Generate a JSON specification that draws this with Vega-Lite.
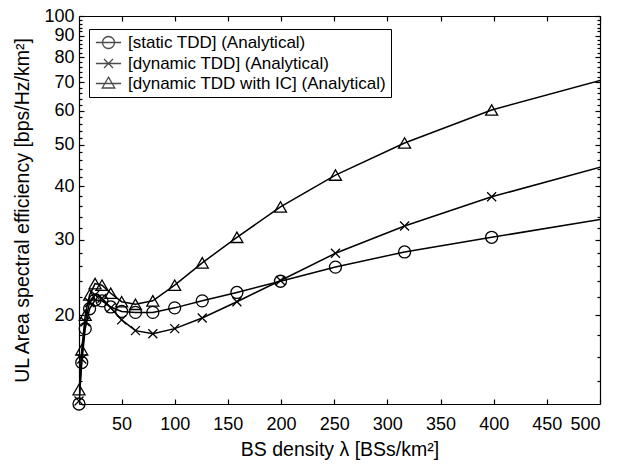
{
  "$schema": "https://vega.github.io/schema/vega-lite/v6.json",
  "width": 521,
  "height": 388,
  "autosize": {"type": "none"},
  "padding": {"left": 79, "top": 16, "right": 26, "bottom": 61},
  "background": "white",
  "config": {
    "view": {"stroke": null},
    "font": "Liberation Sans",
    "axis": {"grid": false, "domainColor": "black", "tickColor": "black", "labelColor": "black", "titleColor": "black", "labelFont": "Liberation Sans", "titleFont": "Liberation Sans", "titleFontWeight": "normal", "domainWidth": 1.2, "tickWidth": 1.2},
    "legend": {"labelFont": "Liberation Sans"}
  },
  "datasets": {
    "curves": [
      {"lambda": 10, "ase": 12.4, "scheme": "[static TDD] (Analytical)"},
      {"lambda": 12.59, "ase": 15.5, "scheme": "[static TDD] (Analytical)"},
      {"lambda": 15.85, "ase": 18.6, "scheme": "[static TDD] (Analytical)"},
      {"lambda": 19.95, "ase": 20.7, "scheme": "[static TDD] (Analytical)"},
      {"lambda": 25.12, "ase": 21.7, "scheme": "[static TDD] (Analytical)"},
      {"lambda": 31.62, "ase": 21.6, "scheme": "[static TDD] (Analytical)"},
      {"lambda": 39.81, "ase": 20.9, "scheme": "[static TDD] (Analytical)"},
      {"lambda": 50.12, "ase": 20.4, "scheme": "[static TDD] (Analytical)"},
      {"lambda": 63.1, "ase": 20.3, "scheme": "[static TDD] (Analytical)"},
      {"lambda": 79.43, "ase": 20.3, "scheme": "[static TDD] (Analytical)"},
      {"lambda": 100, "ase": 20.8, "scheme": "[static TDD] (Analytical)"},
      {"lambda": 125.9, "ase": 21.6, "scheme": "[static TDD] (Analytical)"},
      {"lambda": 158.5, "ase": 22.6, "scheme": "[static TDD] (Analytical)"},
      {"lambda": 199.5, "ase": 24.0, "scheme": "[static TDD] (Analytical)"},
      {"lambda": 251.2, "ase": 25.9, "scheme": "[static TDD] (Analytical)"},
      {"lambda": 316.2, "ase": 28.1, "scheme": "[static TDD] (Analytical)"},
      {"lambda": 398.1, "ase": 30.4, "scheme": "[static TDD] (Analytical)"},
      {"lambda": 501.2, "ase": 33.5, "scheme": "[static TDD] (Analytical)"},
      {"lambda": 10, "ase": 12.6, "scheme": "[dynamic TDD] (Analytical)"},
      {"lambda": 12.59, "ase": 15.8, "scheme": "[dynamic TDD] (Analytical)"},
      {"lambda": 15.85, "ase": 19.3, "scheme": "[dynamic TDD] (Analytical)"},
      {"lambda": 19.95, "ase": 21.4, "scheme": "[dynamic TDD] (Analytical)"},
      {"lambda": 25.12, "ase": 22.3, "scheme": "[dynamic TDD] (Analytical)"},
      {"lambda": 31.62, "ase": 21.9, "scheme": "[dynamic TDD] (Analytical)"},
      {"lambda": 39.81, "ase": 20.8, "scheme": "[dynamic TDD] (Analytical)"},
      {"lambda": 50.12, "ase": 19.5, "scheme": "[dynamic TDD] (Analytical)"},
      {"lambda": 63.1, "ase": 18.4, "scheme": "[dynamic TDD] (Analytical)"},
      {"lambda": 79.43, "ase": 18.1, "scheme": "[dynamic TDD] (Analytical)"},
      {"lambda": 100, "ase": 18.6, "scheme": "[dynamic TDD] (Analytical)"},
      {"lambda": 125.9, "ase": 19.7, "scheme": "[dynamic TDD] (Analytical)"},
      {"lambda": 158.5, "ase": 21.5, "scheme": "[dynamic TDD] (Analytical)"},
      {"lambda": 199.5, "ase": 24.1, "scheme": "[dynamic TDD] (Analytical)"},
      {"lambda": 251.2, "ase": 27.9, "scheme": "[dynamic TDD] (Analytical)"},
      {"lambda": 316.2, "ase": 32.3, "scheme": "[dynamic TDD] (Analytical)"},
      {"lambda": 398.1, "ase": 37.8, "scheme": "[dynamic TDD] (Analytical)"},
      {"lambda": 501.2, "ase": 44.4, "scheme": "[dynamic TDD] (Analytical)"},
      {"lambda": 10, "ase": 13.4, "scheme": "[dynamic TDD with IC] (Analytical)"},
      {"lambda": 12.59, "ase": 16.6, "scheme": "[dynamic TDD with IC] (Analytical)"},
      {"lambda": 15.85, "ase": 20.0, "scheme": "[dynamic TDD with IC] (Analytical)"},
      {"lambda": 19.95, "ase": 22.3, "scheme": "[dynamic TDD with IC] (Analytical)"},
      {"lambda": 25.12, "ase": 23.7, "scheme": "[dynamic TDD with IC] (Analytical)"},
      {"lambda": 31.62, "ase": 23.5, "scheme": "[dynamic TDD with IC] (Analytical)"},
      {"lambda": 39.81, "ase": 22.5, "scheme": "[dynamic TDD with IC] (Analytical)"},
      {"lambda": 50.12, "ase": 21.5, "scheme": "[dynamic TDD with IC] (Analytical)"},
      {"lambda": 63.1, "ase": 21.2, "scheme": "[dynamic TDD with IC] (Analytical)"},
      {"lambda": 79.43, "ase": 21.6, "scheme": "[dynamic TDD with IC] (Analytical)"},
      {"lambda": 100, "ase": 23.5, "scheme": "[dynamic TDD with IC] (Analytical)"},
      {"lambda": 125.9, "ase": 26.5, "scheme": "[dynamic TDD with IC] (Analytical)"},
      {"lambda": 158.5, "ase": 30.4, "scheme": "[dynamic TDD with IC] (Analytical)"},
      {"lambda": 199.5, "ase": 35.8, "scheme": "[dynamic TDD with IC] (Analytical)"},
      {"lambda": 251.2, "ase": 42.5, "scheme": "[dynamic TDD with IC] (Analytical)"},
      {"lambda": 316.2, "ase": 50.5, "scheme": "[dynamic TDD with IC] (Analytical)"},
      {"lambda": 398.1, "ase": 60.3, "scheme": "[dynamic TDD with IC] (Analytical)"},
      {"lambda": 501.2, "ase": 70.8, "scheme": "[dynamic TDD with IC] (Analytical)"}
    ]
  },
  "data": {"name": "curves"},
  "resolve": {"scale": {"shape": "independent"}, "axis": {"x": "independent", "y": "independent"}},
  "layer": [
    {
      "mark": {"type": "line", "color": "black", "strokeWidth": 1.5, "clip": true},
      "encoding": {
        "x": {"field": "lambda", "type": "quantitative", "scale": {"domain": [10, 500], "nice": false, "zero": false},
              "axis": {"orient": "bottom", "values": [50, 100, 150, 200, 250, 300, 350, 400, 450, 500], "tickSize": -5, "labelPadding": 16, "labelFontSize": 18, "title": "BS density λ  [BSs/km²]", "titleFontSize": 19.5, "titlePadding": 7}},
        "y": {"field": "ase", "type": "quantitative", "scale": {"type": "log", "domain": [12.4, 100], "nice": false, "zero": false},
              "axis": {"orient": "left", "values": [20, 30, 40, 50, 60, 70, 80, 90, 100], "format": ".0f", "tickSize": -5, "labelPadding": 10, "labelFontSize": 18, "title": "UL Area spectral efficiency [bps/Hz/km²]", "titleFontSize": 19.5, "titlePadding": 11}},
        "detail": {"field": "scheme"}
      }
    },
    {
      "transform": [{"filter": "datum.lambda <= 500"}],
      "mark": {"type": "point", "filled": false, "color": "black", "strokeWidth": 1.3, "size": 144, "opacity": 1},
      "encoding": {
        "x": {"field": "lambda", "type": "quantitative", "axis": {"orient": "top", "values": [50, 100, 150, 200, 250, 300, 350, 400, 450, 500], "tickSize": -5, "labels": false, "title": null}},
        "y": {"field": "ase", "type": "quantitative", "axis": {"orient": "right", "values": [20, 30, 40, 50, 60, 70, 80, 90, 100], "tickSize": -5, "labels": false, "title": null}},
        "shape": {"field": "scheme", "type": "nominal", "legend": null,
                  "scale": {"domain": ["[static TDD] (Analytical)", "[dynamic TDD] (Analytical)", "[dynamic TDD with IC] (Analytical)"],
                            "range": ["circle", "M-0.75,-0.75L0.75,0.75M-0.75,0.75L0.75,-0.75", "triangle-up"]}}
      }
    },
    {
      "transform": [{"filter": "datum.lambda < 0"}],
      "mark": {"type": "point", "filled": false, "color": "black", "strokeWidth": 1.3, "size": 144},
      "encoding": {
        "x": {"field": "lambda", "type": "quantitative", "axis": null},
        "y": {"field": "ase", "type": "quantitative", "axis": {"orient": "left", "values": [14, 16, 18, 22, 24, 26, 28, 32, 34, 36, 38, 42, 44, 46, 48, 52, 54, 56, 58, 62, 64, 66, 68, 72, 74, 76, 78, 82, 84, 86, 88, 92, 94, 96, 98], "tickSize": -3, "labels": false, "domain": false, "title": null}},
        "shape": {"field": "scheme", "type": "nominal",
                  "scale": {"domain": ["[static TDD] (Analytical)", "[dynamic TDD] (Analytical)", "[dynamic TDD with IC] (Analytical)"],
                            "range": ["M-2.1,0L2.1,0M-1,0A1,1,0,1,0,1,0A1,1,0,1,0,-1,0", "M-2.1,0L2.1,0M-0.75,-0.75L0.75,0.75M-0.75,0.75L0.75,-0.75", "M-2.1,0L2.1,0M0,-1.05L1.05,0.75L-1.05,0.75Z"]},
                  "legend": {"title": null, "orient": "none", "legendX": 10, "legendY": 13, "padding": 5, "strokeColor": "black", "fillColor": "white", "labelFontSize": 17, "labelColor": "black", "labelLimit": 0, "symbolSize": 144, "symbolStrokeWidth": 1.3, "symbolStrokeColor": "black", "symbolFillColor": "transparent", "symbolOffset": 6, "labelOffset": 11, "rowPadding": 2}}
      }
    },
    {
      "transform": [{"filter": "datum.lambda < 0"}],
      "mark": {"type": "point", "filled": false, "color": "black"},
      "encoding": {
        "x": {"field": "lambda", "type": "quantitative", "axis": null},
        "y": {"field": "ase", "type": "quantitative", "axis": {"orient": "right", "values": [14, 16, 18, 22, 24, 26, 28, 32, 34, 36, 38, 42, 44, 46, 48, 52, 54, 56, 58, 62, 64, 66, 68, 72, 74, 76, 78, 82, 84, 86, 88, 92, 94, 96, 98], "tickSize": -3, "labels": false, "domain": false, "title": null}}
      }
    }
  ]
}
